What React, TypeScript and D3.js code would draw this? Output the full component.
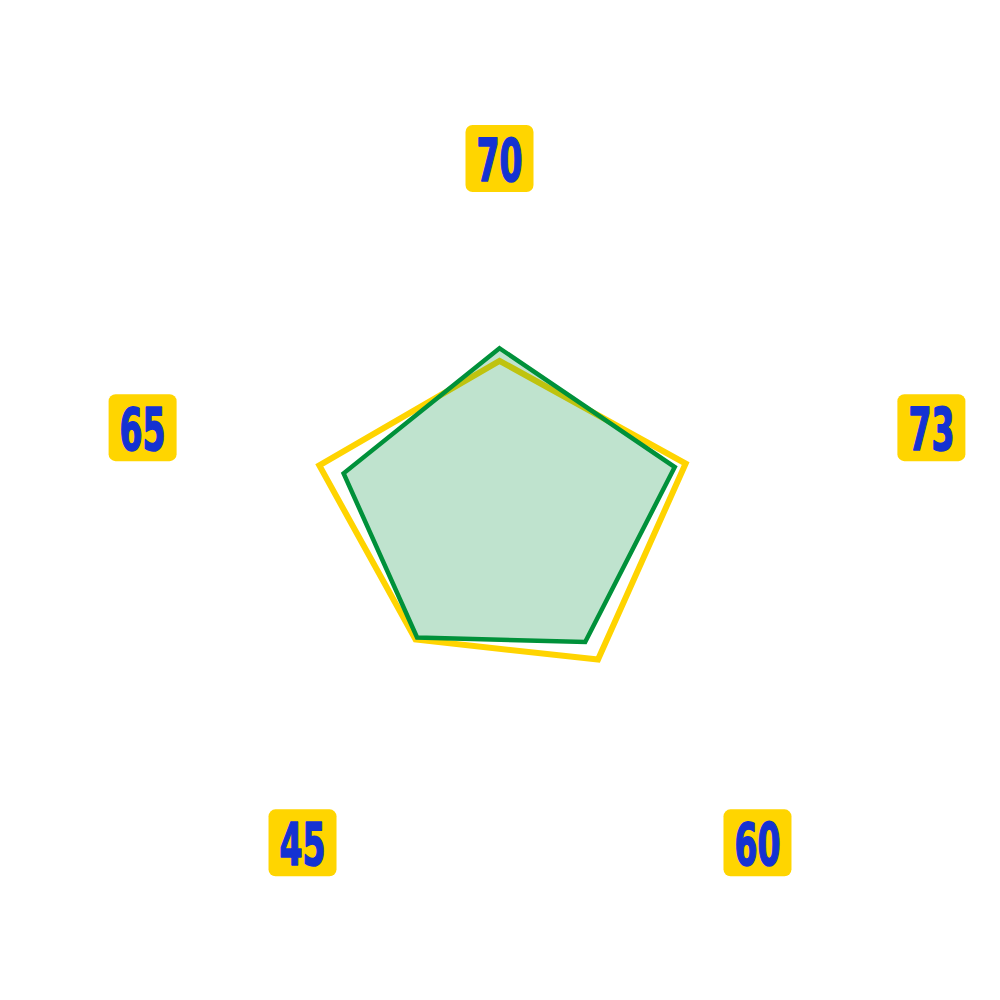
import * as d3 from 'd3'
import { FC } from 'react'

// axis names, clockwise from the top
const axisNames: string[] = ['70', '73', '60', '45', '65']

// the two series, same order as axisNames
const seriesA: number[] = [44.1, 52.9, 45.3, 38.6, 51.2]
const seriesB: number[] = [47.5, 49.8, 39.4, 37.9, 44.3]

const dimensions = { width: 1000, height: 1000 }
const center = { x: 499.5, y: 524 }
const radius = 370

// nudges for the name boxes, they do not sit on a clean ring
const labelShift: [number, number][] = [[0, 4.5], [80, 18], [40.5, 19.5], [20.5, 19.5], [-5, 18]]

const App: FC = () => {
    const r = d3.scaleLinear().domain([0, 100]).range([0, radius])
    const angle = d3.scalePoint<number>()
        .domain(d3.range(axisNames.length + 1))
        .range([0, 2 * Math.PI])

    const line = d3.lineRadial<number>()
        .angle((_, i) => angle(i)!)
        .radius(d => r(d))
        .curve(d3.curveLinearClosed)

    const boxW = 68
    const boxH = 67

    return (
        <svg
            width={dimensions.width}
            height={dimensions.height}
            style={{ position: 'absolute', left: 0, top: 0 }}
        >
            <g transform={`translate(${center.x},${center.y})`}>
                <path
                    d={line(seriesA)!}
                    fill="none"
                    stroke="#FFD400"
                    strokeWidth={6}
                    strokeLinejoin="miter"
                />
                <path
                    d={line(seriesB)!}
                    fill="#00913A"
                    fillOpacity={0.25}
                    stroke="#00913A"
                    strokeWidth={4.5}
                    strokeLinejoin="miter"
                />
                {axisNames.map((name, i) => {
                    const a = angle(i)! - Math.PI / 2
                    const x = Math.cos(a) * radius + labelShift[i][0]
                    const y = Math.sin(a) * radius + labelShift[i][1]
                    return (
                        <g key={name} transform={`translate(${x},${y})`}>
                            <rect
                                x={-boxW / 2}
                                y={-boxH / 2}
                                width={boxW}
                                height={boxH}
                                rx={7}
                                fill="#FFD500"
                            />
                            <text
                                y={22}
                                textAnchor="middle"
                                fontFamily="'DejaVu Sans Condensed', 'DejaVu Sans', sans-serif"
                                fontWeight="bold"
                                fontSize={58}
                                textLength={46}
                                lengthAdjust="spacingAndGlyphs"
                                fill="#1432D2"
                                stroke="#1432D2"
                                strokeWidth={1.6}
                                strokeLinejoin="round"
                            >
                                {name}
                            </text>
                        </g>
                    )
                })}
            </g>
        </svg>
    )
}

export default App
